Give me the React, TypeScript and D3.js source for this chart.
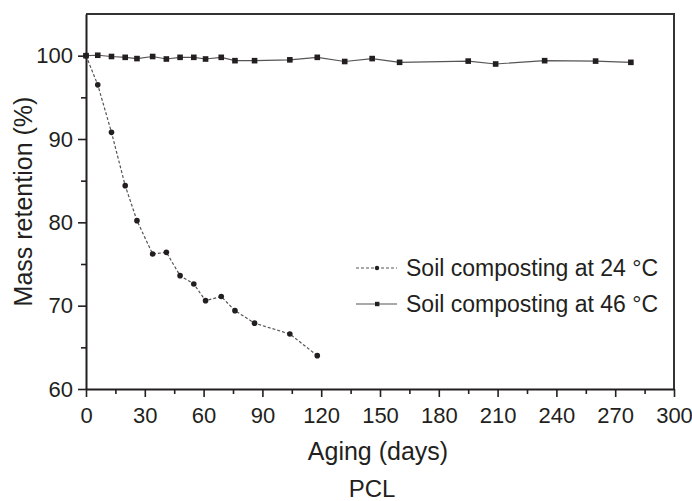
import React, { useRef, useEffect } from "react";
import * as d3 from "d3";

// Soil composting at 24 °C
const days24 = [0, 6, 13, 20, 26, 34, 41, 48, 55, 61, 69, 76, 86, 104, 118];
const mass24 = [100, 96.5, 90.8, 84.4, 80.2, 76.2, 76.4, 73.6, 72.6, 70.6, 71.1, 69.4, 67.9, 66.6, 64.0];

// Soil composting at 46 °C
const days46 = [0, 6, 13, 20, 26, 34, 41, 48, 55, 61, 69, 76, 86, 104, 118, 132, 146, 160, 195, 209, 234, 260, 278];
const mass46 = [100, 100.05, 99.9, 99.8, 99.65, 99.9, 99.6, 99.8, 99.8, 99.6, 99.8, 99.4, 99.4, 99.5, 99.8, 99.3, 99.65, 99.2, 99.35, 99.0, 99.4, 99.35, 99.2];

const xTicks = [0, 30, 60, 90, 120, 150, 180, 210, 240, 270, 300];
const xMinor = [15, 45, 75, 105, 135, 165, 195, 225, 255, 285];
const yTicks = [60, 70, 80, 90, 100];
const yMinor = [65, 75, 85, 95];

const legendLabels = ["Soil composting at 24 °C", "Soil composting at 46 °C"];

interface Pt {
  day: number;
  mass: number;
}

const width = 692;
const height = 501;
const ink = "#231f20";
const font = "'Liberation Sans', Arial, sans-serif";

const App: React.FC = () => {
  const svgRef = useRef<SVGSVGElement | null>(null);

  useEffect(() => {
    const svg = d3.select(svgRef.current);
    svg.selectAll("*").remove();

    const margin = { top: 14, right: 18, bottom: 112, left: 86 };
    const innerWidth = width - margin.left - margin.right;
    const innerHeight = height - margin.top - margin.bottom;

    const x = d3.scaleLinear().domain([0, 300]).range([0, innerWidth]);
    const y = d3.scaleLinear().domain([60, 105]).range([innerHeight, 0]);

    const g = svg
      .append("g")
      .attr("transform", `translate(${margin.left},${margin.top})`);

    const s24: Pt[] = days24.map((d, i) => ({ day: d, mass: mass24[i] }));
    const s46: Pt[] = days46.map((d, i) => ({ day: d, mass: mass46[i] }));

    const line = d3
      .line<Pt>()
      .x((d) => x(d.day))
      .y((d) => y(d.mass));

    // frame (top + right)
    g.append("path")
      .attr("d", `M0,0H${innerWidth}V${innerHeight}`)
      .attr("fill", "none")
      .attr("stroke", "#333")
      .attr("stroke-width", 2);

    // minor ticks
    g.append("g")
      .attr("transform", `translate(0,${innerHeight})`)
      .call(d3.axisBottom(x).tickValues(xMinor).tickSize(5).tickFormat(() => ""))
      .call((a) => a.select(".domain").remove())
      .selectAll("line")
      .attr("stroke", ink)
      .attr("stroke-width", 1.6);
    g.append("g")
      .call(d3.axisLeft(y).tickValues(yMinor).tickSize(5).tickFormat(() => ""))
      .call((a) => a.select(".domain").remove())
      .selectAll("line")
      .attr("stroke", ink)
      .attr("stroke-width", 1.6);

    // x axis
    const xa = g
      .append("g")
      .attr("transform", `translate(0,${innerHeight})`)
      .call(d3.axisBottom(x).tickValues(xTicks).tickSize(8).tickSizeOuter(0).tickPadding(10));
    xa.select(".domain").attr("stroke", ink).attr("stroke-width", 2);
    xa.selectAll("line").attr("stroke", ink).attr("stroke-width", 1.6);
    xa.selectAll("text")
      .attr("fill", ink)
      .style("font-family", font)
      .style("font-size", "22px");

    // y axis
    const ya = g
      .append("g")
      .call(d3.axisLeft(y).tickValues(yTicks).tickSize(8).tickSizeOuter(0).tickPadding(5));
    ya.select(".domain").attr("stroke", ink).attr("stroke-width", 2);
    ya.selectAll("line").attr("stroke", ink).attr("stroke-width", 1.6);
    ya.selectAll("text")
      .attr("fill", ink)
      .style("font-family", font)
      .style("font-size", "22px");

    // 46 °C series
    g.append("path")
      .datum(s46)
      .attr("fill", "none")
      .attr("stroke", "#555")
      .attr("stroke-width", 1.2)
      .attr("d", line);
    g.selectAll(".sq")
      .data(s46)
      .enter()
      .append("rect")
      .attr("x", (d) => x(d.day) - 2.8)
      .attr("y", (d) => y(d.mass) - 2.8)
      .attr("width", 5.6)
      .attr("height", 5.6)
      .attr("fill", ink);

    // 24 °C series
    g.append("path")
      .datum(s24)
      .attr("fill", "none")
      .attr("stroke", "#555")
      .attr("stroke-width", 1.2)
      .attr("stroke-dasharray", "3,2")
      .attr("d", line);
    g.selectAll(".dot")
      .data(s24)
      .enter()
      .append("circle")
      .attr("cx", (d) => x(d.day))
      .attr("cy", (d) => y(d.mass))
      .attr("r", 2.8)
      .attr("fill", ink);

    // legend
    const lg = svg.append("g").attr("transform", "translate(356,268)");
    legendLabels.forEach((label, i) => {
      const row = lg.append("g").attr("transform", `translate(0,${i * 36})`);
      row.append("line")
        .attr("x1", 0)
        .attr("x2", 41)
        .attr("stroke", "#555")
        .attr("stroke-width", 1.2)
        .attr("stroke-dasharray", i === 0 ? "3,2" : null);
      if (i === 0) {
        row.append("circle").attr("cx", 21).attr("r", 2.2).attr("fill", ink);
      } else {
        row.append("rect").attr("x", 19).attr("y", -2.2).attr("width", 4.4).attr("height", 4.4).attr("fill", ink);
      }
      row.append("text")
        .attr("x", 50)
        .attr("dy", "0.35em")
        .attr("fill", ink)
        .style("font-family", font)
        .style("font-size", "23px")
        .text(label);
    });

    // axis titles
    svg.append("text")
      .attr("x", 378)
      .attr("y", 460)
      .attr("text-anchor", "middle")
      .attr("fill", ink)
      .style("font-family", font)
      .style("font-size", "25px")
      .text("Aging (days)");

    svg.append("text")
      .attr("transform", `translate(32,${margin.top + innerHeight / 2}) rotate(-90)`)
      .attr("text-anchor", "middle")
      .attr("fill", ink)
      .style("font-family", font)
      .style("font-size", "25px")
      .text("Mass retention (%)");

    svg.append("text")
      .attr("x", 372)
      .attr("y", 497)
      .attr("text-anchor", "middle")
      .attr("fill", ink)
      .style("font-family", font)
      .style("font-size", "24px")
      .text("PCL");
  }, []);

  return (
    <svg
      ref={svgRef}
      width={width}
      height={height}
      style={{ position: "absolute", left: 0, top: 0, background: "#fff" }}
    ></svg>
  );
};

export default App;
